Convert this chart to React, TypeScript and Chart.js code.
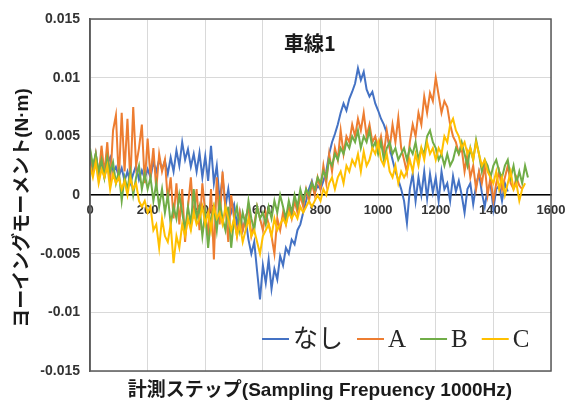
import React, { useEffect, useRef } from "react";
import { Chart, registerables } from "chart.js";

Chart.register(...registerables);

// sampling step of the stored series (measurement steps)
const STEP = 10;

// Series values in milli-N·m (×0.001 N·m), one value per 10 steps starting at step 0
const NASHI_mNm = [
  3.0, 2.2, 3.5, 1.8, 2.8, 1.5, 2.6, 3.2, 1.9, 2.4,
  1.6, 2.3, 1.2, 2.0, 1.0, 1.8, 2.5, 1.3, 2.1, 1.4,
  2.2, 1.5, 2.8, 2.0, 3.0, 2.2, 2.9, 1.8, 3.2, 2.0,
  3.8, 2.5, 4.5, 3.0, 3.9, 2.4, 3.5, 2.0, 3.6, 1.5,
  3.3, 1.2, 4.2, 1.0, 2.5, -0.5, 1.5, -1.0, 0.5, -1.5,
  -0.8, -2.5, -1.5, -3.0, -2.0, -3.8, -5.0, -4.0, -6.5, -8.9,
  -6.0, -7.5, -5.5, -8.0, -6.3, -7.2, -5.2, -6.0, -4.5, -5.0,
  -3.8, -4.2, -3.0, -2.5, -1.5, -0.5, 0.5, 1.2, 0.2, 0.8,
  0.5, 1.2, 2.0, 3.5, 4.5, 5.2, 6.0, 7.0, 7.8, 7.2,
  8.2, 8.8, 9.5, 10.8, 9.8, 10.5, 9.0, 8.4, 8.8, 7.8,
  7.2, 6.5, 6.0, 5.3, 4.0, 3.0, 2.0, 1.3, 0.5, -0.5,
  -2.4, 0.5, 1.8, -0.5, 1.5, 0.0, 2.0, -0.3, 1.8, 0.2,
  1.5, -0.5, 2.0, 0.5, 1.0, -0.5, 1.6, 0.3, 1.2, 0.0,
  -1.5, 0.5, 1.0, -0.8, 0.8, 1.9, 0.2, -1.0, 0.5, 1.0,
  -1.2, 0.5, 0.8, -0.5, 1.0, 0.3,
];

const A_mNm = [
  3.8, 2.0, 3.5, 1.5, 4.2, 1.8, 4.5, 1.0, 5.5, 6.8,
  1.2, 7.0, 2.0, 6.5, 1.0, 7.5, 2.5, 4.0, 6.0, 1.0,
  4.8, 1.5, 4.0, 0.5, 3.5, 2.0, 3.0, -0.5, 1.5, -2.0,
  1.0, -2.5, 0.5, -4.0, -1.0, 1.5, -2.0, 0.5, -3.0, 1.0,
  -1.5, -3.5, 0.5, -5.5, 1.5, -2.5, 2.0, -1.0, -4.0, 0.0,
  -2.0, -3.5, -1.5, -3.0, -2.0, -1.0, -3.5, -2.5, -1.0, -2.0,
  -3.0, -1.5, -2.5, -3.5, -5.0, -2.0, -3.0, -1.5, -2.5, -1.0,
  -2.0, -0.5, -1.5, 0.0, -1.0, 0.5, -0.5, 1.0, 0.0, 1.5,
  0.5, 2.5, 1.0, 3.5, 2.0, 4.0, 3.0, 5.5, 3.5, 5.0,
  4.5, 6.0, 5.0, 6.5, 5.5, 7.0, 5.0, 6.0, 4.5, 5.0,
  4.0, 5.0, 3.5, 5.5, 4.0, 6.0, 4.5, 6.6, 4.0, 3.0,
  1.9, 4.5, 6.0, 5.0, 7.0, 6.0, 8.4, 7.0, 8.7, 8.0,
  10.0, 8.5, 7.0, 8.0, 7.5, 6.0, 5.0, 4.5, 3.5, 4.0,
  2.0, 3.5, 1.5, 2.5, 0.5, 2.0, 1.0, 2.5, 0.0, 1.5,
  -0.5, 1.0, 2.0, 0.5, 1.5, 2.5, 1.0, 0.5, 1.5, 0.8,
  0.5,
];

const B_mNm = [
  4.0, 2.5, 3.5, 2.0, 3.0, 1.5, 3.2, 2.0, 2.8, 1.0,
  2.0, -0.5, 1.5, 0.5, 2.0, 0.0, 1.5, 2.5, 0.5, 1.8,
  0.5, 1.5, -0.5, 1.0, -1.0, 0.5, -1.5, 0.0, -2.5, -1.0,
  -2.0, 0.0, -1.5, -3.0, -1.0, -2.5, 0.5, -2.0, -1.0, -3.5,
  -1.5, -4.5, -2.0, -1.0, -3.0, -0.5, -2.0, -3.0, -1.0, -4.5,
  -2.0, -1.0, -3.0, -1.5, -2.5, -0.5, -2.0, -3.0, -1.0, -2.0,
  -1.5, -2.5, -1.0, -2.0, -0.5, -1.5, 0.0, -1.0, -2.0, -0.5,
  -1.5, 0.0, -1.0, 0.5, -0.5, 0.5, 0.0, 1.0, 0.5, 1.5,
  1.0, 2.0, 1.5, 3.0, 2.5, 3.5, 3.0, 4.0, 3.5, 4.5,
  4.0, 5.0, 4.5, 5.5, 4.0, 5.0, 4.5, 5.5, 4.0, 4.5,
  3.5, 4.5, 3.0, 4.0, 4.5, 3.5, 4.0, 3.0, 3.5, 4.0,
  3.0, 4.0, 3.5, 4.5, 3.0, 4.0, 3.5, 5.0, 5.5, 4.5,
  4.0, 3.0, 3.5, 2.5, 3.5, 2.5, 3.0, 4.0, 3.5, 4.5,
  3.5, 2.5, 4.0, 3.0, 4.7, 3.5, 2.0, 3.0, 2.5, 1.5,
  2.5, 3.0, 2.0, 1.5, 2.5, 3.0, 1.5, 2.5, 1.0, 2.0,
  1.0, 2.5, 1.5,
];

const C_mNm = [
  2.5, 1.5, 2.8, 1.0, 2.2, 1.5, 2.5, 0.5, 1.8, 1.0,
  1.5, 0.5, 1.2, 0.0, 1.5, 0.5, 1.0, -0.5, -1.0, -0.5,
  -1.5, -1.0, -3.0, -2.5, -4.5, -2.0, -3.5, -4.0, -2.5, -5.8,
  -3.5, -4.5, -2.5, -3.5, -2.0, -3.0, -1.5, -2.5, -2.0, -1.0,
  -2.5, -1.5, -3.0, -1.0, -2.0, -1.5, -2.5, -1.0, -2.0, -3.0,
  -2.0, -3.5, -2.5, -4.0, -3.0, -2.0, -3.5, -3.0, -4.0, -5.0,
  -3.5, -3.0, -2.5, -3.5, -2.0, -3.0, -2.5, -2.0, -2.5, -1.5,
  -2.0, -1.5, -2.0, -1.0, -1.5, -1.0, -0.5, -1.0, -0.5, 0.0,
  -0.5, 0.5, 0.0, 1.0, 1.5, 0.5, 1.5, 2.0, 1.0, 2.5,
  2.0, 3.0, 2.5, 3.5, 2.0, 3.7, 2.5, 3.0, 4.0, 3.5,
  4.5, 3.0, 2.5, 3.5, 2.0, 1.5, 2.5, 1.0, 2.0, 1.5,
  2.0, 3.0, 2.0, 3.5, 2.5, 4.0, 3.0, 4.5, 3.5, 4.0,
  3.0, 4.0, 3.5, 5.0, 4.5, 6.0, 6.5, 5.5, 5.0, 4.0,
  4.5, 3.5, 4.0, 3.0, 4.5, 3.5, 2.5, 3.0, 2.0, 1.5,
  1.0, 2.0, 0.5, 1.5, 0.0, 1.0, 2.0, 0.5, 1.0, -0.5,
  0.5, 1.0,
];

const SERIES_NAMES = ["なし", "A", "B", "C"];
const SERIES_COLORS = ["#4472C4", "#ED7D31", "#70AD47", "#FFC000"];

const X_MIN = 0;
const X_MAX = 1600;
const X_STEP = 200;
const Y_MIN = -0.015;
const Y_MAX = 0.015;
const Y_STEP = 0.005;

const CHART_TITLE = "車線1";
const X_TITLE = "計測ステップ(Sampling Frepuency 1000Hz)";
const Y_TITLE = "ヨーイングモーメント(N·m)";

const SANS = '"Liberation Sans", Arial, "Noto Sans CJK JP", sans-serif';
const CJK = '"Noto Sans CJK JP", "Liberation Sans", sans-serif';
const SERIF = '"Liberation Serif", "Noto Sans CJK JP", serif';

const toPoints = (arr: number[]) => arr.map((v, i) => ({ x: i * STEP, y: v / 1000 }));

const decorPlugin = {
  id: "decor",
  afterDraw(chart: any) {
    const { ctx, chartArea } = chart;
    const { left, right, top, bottom } = chartArea;
    ctx.save();
    // plot frame
    ctx.strokeStyle = "#595959";
    ctx.lineWidth = 1.5;
    ctx.strokeRect(left, top, right - left, bottom - top);

    // chart title inside plot
    ctx.fillStyle = "#1a1a1a";
    ctx.font = `bold 20px ${CJK}`;
    ctx.textAlign = "center";
    ctx.textBaseline = "middle";
    ctx.fillText(CHART_TITLE, 310, 43);

    // x axis title
    ctx.font = `bold 19px ${SANS}`;
    ctx.fillStyle = "#1a1a1a";
    ctx.fillText(X_TITLE, 320, 391);

    // y axis title
    ctx.save();
    ctx.translate(23, 208);
    ctx.rotate(-Math.PI / 2);
    ctx.font = `bold 19px ${SANS}`;
    ctx.fillText(Y_TITLE, 0, 0);
    ctx.restore();

    // legend inside plot, bottom right
    ctx.font = `25px ${SERIF}`;
    ctx.textAlign = "left";
    ctx.textBaseline = "alphabetic";
    let x = 262;
    const ly = 339;
    SERIES_NAMES.forEach((name, i) => {
      ctx.strokeStyle = SERIES_COLORS[i];
      ctx.lineWidth = 2;
      ctx.beginPath();
      ctx.moveTo(x, ly);
      ctx.lineTo(x + 27, ly);
      ctx.stroke();
      x += 31;
      ctx.fillStyle = "#262626";
      ctx.fillText(name, x, 347);
      x += ctx.measureText(name).width + 14;
    });
    ctx.restore();
  },
};

export default function App() {
  const ref = useRef<HTMLCanvasElement>(null);
  useEffect(() => {
    if (!ref.current) return;
    const all = [NASHI_mNm, A_mNm, B_mNm, C_mNm];
    const chart = new Chart(ref.current, {
      type: "line",
      data: {
        datasets: all.map((arr, i) => ({
          label: SERIES_NAMES[i],
          data: toPoints(arr),
          borderColor: SERIES_COLORS[i],
          backgroundColor: SERIES_COLORS[i],
          borderWidth: 2,
          pointRadius: 0,
          tension: 0,
          order: 4 - i,
        })),
      },
      options: {
        animation: false,
        responsive: false,
        layout: { padding: { left: 0, right: 14, top: 19, bottom: 35 } },
        plugins: { legend: { display: false }, tooltip: { enabled: false } },
        scales: {
          x: {
            type: "linear",
            min: X_MIN,
            max: X_MAX,
            position: { y: 0 } as any,
            ticks: {
              stepSize: X_STEP,
              autoSkip: false,
              maxRotation: 0,
              padding: 8,
              color: "#333333",
              font: { family: SANS, size: 13, weight: "bold" },
              callback: (v: any) => String(Math.round(Number(v))),
            },
            grid: { color: "#d9d9d9", drawTicks: false },
            border: { display: true, color: "#000000", width: 1.5 },
            afterFit: (s: any) => {
              s.height = 0;
              s.paddingLeft = 0;
              s.paddingRight = 0;
            },
          },
          y: {
            type: "linear",
            min: Y_MIN,
            max: Y_MAX,
            ticks: {
              stepSize: Y_STEP,
              padding: 10,
              color: "#333333",
              font: { family: SANS, size: 14, weight: "bold" },
              callback: (v: any) => String(Number(Number(v).toFixed(3))),
            },
            grid: { color: "#d9d9d9", drawTicks: false },
            border: { display: true, color: "#595959", width: 1.5 },
            afterFit: (s: any) => {
              s.width = 90;
            },
          },
        },
      } as any,
      plugins: [decorPlugin],
    });
    return () => chart.destroy();
  }, []);
  return (
    <div style={{ position: "absolute", left: 0, top: 0, width: 565, height: 406, background: "#fff" }}>
      <canvas ref={ref} width={565} height={406} />
    </div>
  );
}
